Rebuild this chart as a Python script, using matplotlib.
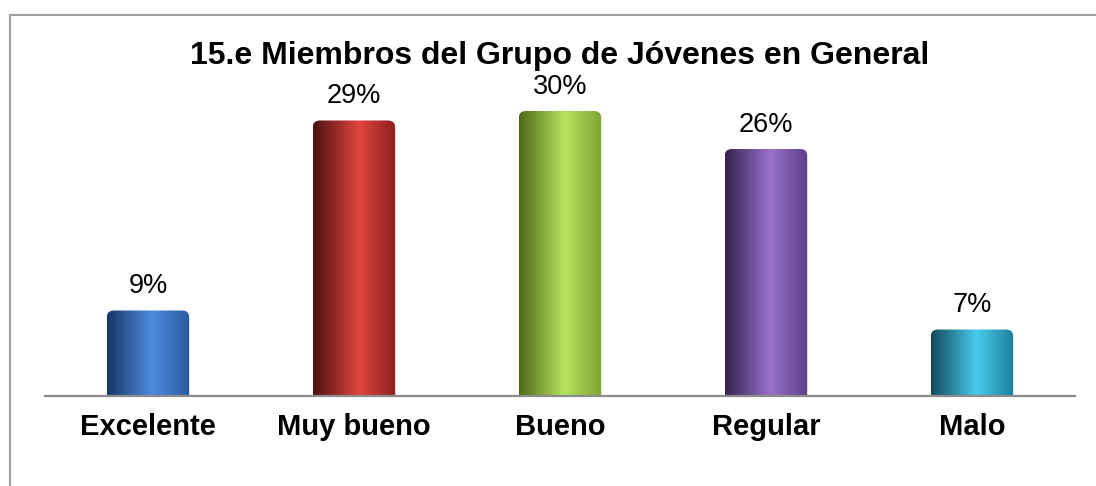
import numpy as np
import matplotlib
matplotlib.use("Agg")
import matplotlib.pyplot as plt
from matplotlib.colors import LinearSegmentedColormap
from matplotlib.patches import Rectangle, FancyBboxPatch

plt.rcParams['font.family'] = ['Liberation Sans', 'DejaVu Sans']

# datos de la pregunta 15.e
categorias = ["Excelente", "Muy bueno", "Bueno", "Regular", "Malo"]
porcentajes = [9, 29, 30, 26, 7]
etiquetas = ["9%", "29%", "30%", "26%", "7%"]
titulo = "15.e Miembros del Grupo de Jóvenes en General"

# colores de cada cilindro: (oscuro, claro, medio)
tonos = [
    ("#173766", "#4f8ce0", "#2a5a9c"),
    ("#4a1010", "#e0453f", "#8c2020"),
    ("#4e6a18", "#b7e45e", "#7ea332"),
    ("#33224e", "#9a72cc", "#5c3f88"),
    ("#12495c", "#48cbee", "#1f7f9c"),
]

fig = plt.figure(figsize=(10.96, 4.86), dpi=100)
ax = fig.add_axes([45 / 1096, 90 / 486, 1030 / 1096, 332.5 / 486])

x = np.arange(len(categorias))
barras = ax.bar(x, porcentajes, width=0.40, color="none", zorder=2)

ax.set_xlim(-0.5, len(categorias) - 0.5)
ax.set_ylim(0, 35)

# sombreado tipo cilindro con borde superior redondeado
grad = np.linspace(0, 1, 256).reshape(1, -1)
for barra, (osc, cla, med) in zip(barras, tonos):
    cmap = LinearSegmentedColormap.from_list(
        "cil", [(0.0, osc), (0.55, cla), (1.0, med)])
    x0, w, h = barra.get_x(), barra.get_width(), barra.get_height()
    forma = FancyBboxPatch((x0, -2), w, h + 2,
                           boxstyle="round,pad=0,rounding_size=0.035",
                           mutation_aspect=20, transform=ax.transData,
                           facecolor="none", edgecolor="none")
    ax.add_patch(forma)
    im = ax.imshow(grad, cmap=cmap, aspect="auto",
                   extent=(x0, x0 + w, 0, h), zorder=2)
    im.set_clip_path(forma)

for xi, val, txt in zip(x, porcentajes, etiquetas):
    ax.annotate(txt, (xi, val), xytext=(0, 12.5), textcoords="offset points",
                ha="center", va="baseline", fontsize=19.5, color="black")

ax.set_xticks(x)
ax.set_xticklabels(categorias, fontsize=21, fontweight="bold")
ax.tick_params(axis="x", length=0, pad=12)
ax.set_yticks([])
for lado in ["top", "left", "right"]:
    ax.spines[lado].set_visible(False)
ax.spines["bottom"].set_color("#8c8c8c")
ax.spines["bottom"].set_linewidth(1.6)
ax.spines["bottom"].set_zorder(3)
ax.patch.set_alpha(0)

fig.text(560 / 1096, 1 - 64 / 486, titulo, ha="center", va="baseline",
         fontsize=23, fontweight="bold")

# marco del gráfico
fig.patches.append(Rectangle((10 / 1096, -0.2), 1.2, 1.2 - 15 / 486,
                             transform=fig.transFigure, fill=False,
                             edgecolor="#a0a0a0", linewidth=1.5))

fig.savefig("out.png", dpi=100)
